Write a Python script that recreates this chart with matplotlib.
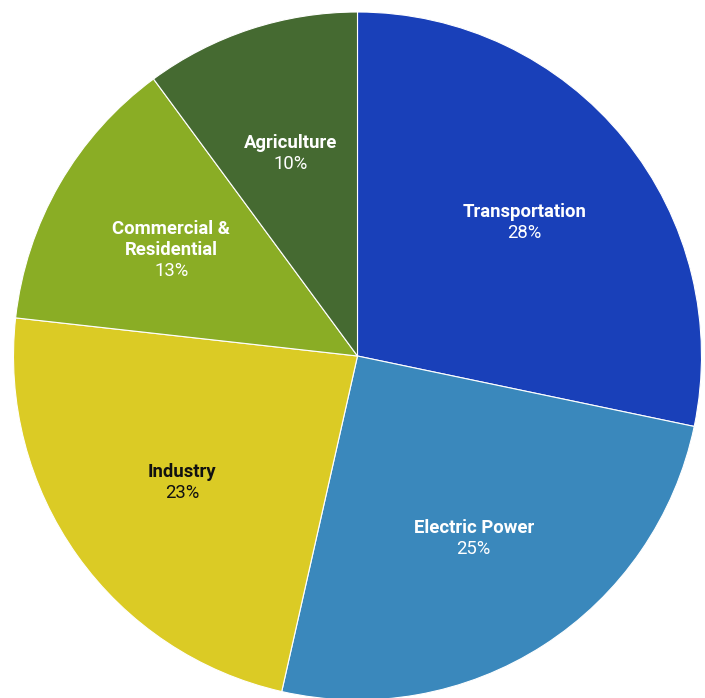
import numpy as np
import matplotlib.pyplot as plt

plt.rcParams['font.family'] = ['Roboto', 'DejaVu Sans']

sectors = ['Transportation', 'Electric Power', 'Industry', 'Commercial &\nResidential', 'Agriculture']
shares = [28, 25, 23, 13, 10]
colors = ['#1940B9', '#3A88BC', '#DBCB25', '#8AAD25', '#456A31']
text_colors = ['white', 'white', '#111111', 'white', 'white']

fig = plt.figure(figsize=(7.05, 6.98), dpi=100)
W, H = 705, 698
cx, cy, r = 357.5, 698 - 356, 344
ax = fig.add_axes([(cx - r) / W, (cy - r) / H, 2 * r / W, 2 * r / H])

wedges, _ = ax.pie(shares, colors=colors, startangle=90, counterclock=False,
                   radius=1, wedgeprops=dict(edgecolor='white', linewidth=0.8))
ax.set_xlim(-1, 1)
ax.set_ylim(-1, 1)
ax.axis('off')

line_h = 15.1  # points between lines
for w, name, val, tc in zip(wedges, sectors, shares, text_colors):
    ang = np.deg2rad((w.theta1 + w.theta2) / 2)
    x, y = 0.625 * np.cos(ang), 0.625 * np.sin(ang)
    lines = name.split('\n')
    n = len(lines) + 1
    top = line_h * (n - 1) / 2 - 1.2
    for i, ln in enumerate(lines):
        ax.annotate(ln, (x, y), xytext=(0, top - i * line_h),
                    textcoords='offset points', ha='center', va='center',
                    fontsize=13.3, fontweight='bold', color=tc)
    ax.annotate(f'{val}%', (x, y), xytext=(0, top - len(lines) * line_h),
                textcoords='offset points', ha='center', va='center',
                fontsize=13.3, color=tc)

fig.savefig('out.png', dpi=100)
